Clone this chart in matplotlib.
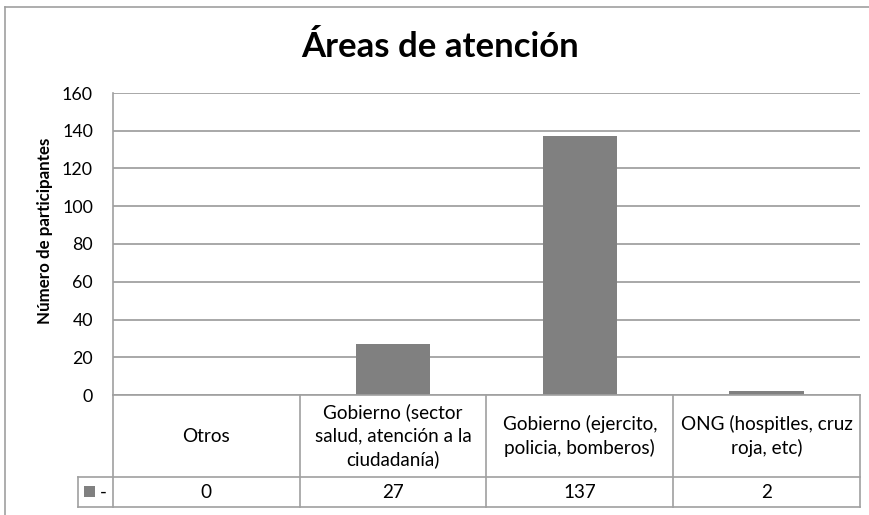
import matplotlib
matplotlib.use("Agg")
import matplotlib.pyplot as plt
from matplotlib.lines import Line2D
from matplotlib.patches import Rectangle

categories = ["Otros",
              "Gobierno (sector\nsalud, atención a la\nciudadanía)",
              "Gobierno (ejercito,\npolicia, bomberos)",
              "ONG (hospitles, cruz\nroja, etc)"]
values = [0, 27, 137, 2]
series_name = "-"
yticks = [0, 20, 40, 60, 80, 100, 120, 140, 160]
title = "Áreas de atención"
ylabel = "Número de participantes"

FONT = ["Lato", "DejaVu Sans"]
plt.rcParams['font.family'] = FONT

W, H = 870, 515
fig = plt.figure(figsize=(W / 100, H / 100), dpi=100)
fig.patch.set_facecolor("white")

def fx(px):
    return px / W

def fy(py):
    return 1 - py / H

left, right, top, bottom = 113, 860, 93, 395
ax = fig.add_axes([fx(left), fy(bottom), fx(right) - fx(left), fy(top) - fy(bottom)])

grid_c = "#9a9a9a"
line_c = "#a0a0a0"
bar_c = "#808080"
text_c = "#000000"
FS = 13.6

x = list(range(len(categories)))
ax.bar(x, values, width=0.4, color=bar_c, zorder=3)
ax.set_xlim(-0.5, len(categories) - 0.5)
ax.set_ylim(0, 160)
ax.set_yticks(yticks)
ax.set_yticklabels([str(t) for t in yticks], fontsize=12.8, color=text_c)
ax.tick_params(axis="y", length=0, pad=14.4)
ax.set_xticks([])
ax.yaxis.grid(True, color=grid_c, linewidth=1.2, zorder=0)
ax.set_axisbelow(True)
for s in ["top", "right", "bottom"]:
    ax.spines[s].set_visible(False)
ax.spines["left"].set_color(line_c)
ax.spines["left"].set_linewidth(1.2)

# title and y label
fig.text(fx(440), fy(47), title, ha="center", va="center", fontsize=25,
         fontweight="bold", color=text_c)
fig.text(fx(45), fy(231), ylabel, ha="center", va="center", rotation=90,
         fontsize=12.2, fontweight="bold", color=text_c)

# outer chart border
fig.add_artist(Line2D([fx(5), fx(5)], [fy(7), 0], color=line_c, lw=1.2))
fig.add_artist(Line2D([fx(5), 1], [fy(7), fy(7)], color=line_c, lw=1.2))

# data table
row1, row2 = 477, 507
tl, kl = 113, 78
colw = (right - tl) / len(categories)
lw = 1.2
fig.add_artist(Line2D([fx(tl), fx(right)], [fy(bottom), fy(bottom)], color=line_c, lw=lw))
fig.add_artist(Line2D([fx(kl), fx(right)], [fy(row1), fy(row1)], color=line_c, lw=lw))
fig.add_artist(Line2D([fx(kl), fx(right)], [fy(row2), fy(row2)], color=line_c, lw=lw))
fig.add_artist(Line2D([fx(kl), fx(kl)], [fy(row1), fy(row2)], color=line_c, lw=lw))
for i in range(len(categories) + 1):
    xp = tl + i * colw
    fig.add_artist(Line2D([fx(xp), fx(xp)], [fy(bottom), fy(row2)], color=line_c, lw=lw))

for i, (c, v) in enumerate(zip(categories, values)):
    cx = tl + (i + 0.5) * colw
    fig.text(fx(cx), fy((bottom + row1) / 2), c, ha="center", va="center",
             fontsize=FS, color=text_c, linespacing=1.42)
    fig.text(fx(cx), fy((row1 + row2) / 2), str(v), ha="center", va="center",
             fontsize=FS, color=text_c)

# legend key
fig.add_artist(Rectangle((fx(84), fy(497)), fx(11), fy(486) - fy(497),
                         facecolor=bar_c, edgecolor="none", transform=fig.transFigure))
fig.text(fx(100), fy(492), series_name, ha="left", va="center", fontsize=FS, color=text_c)

fig.savefig("out.png", dpi=100, facecolor="white")
